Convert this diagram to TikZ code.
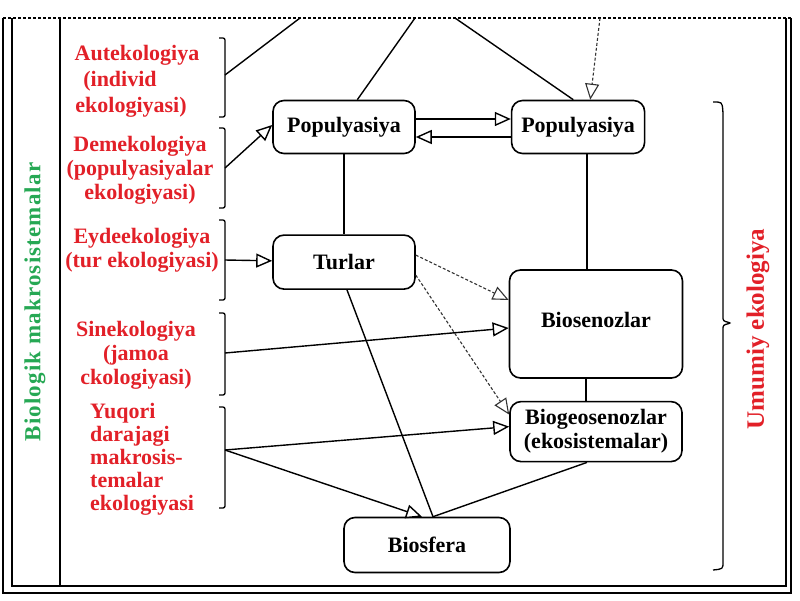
\documentclass[tikz,border=0pt]{standalone}
\usepackage{fontspec}
\setmainfont{Liberation Serif}
\usetikzlibrary{positioning}
\usetikzlibrary{calc}
\usetikzlibrary{arrows.meta}
\definecolor{ecored}{RGB}{226,32,40}
\definecolor{ecogreen}{RGB}{38,168,84}

\begin{document}
\begin{tikzpicture}[
        x=1pt, y=-1pt,
        box/.style={draw, line width=1.6pt, rounded corners=11pt, fill=white,
                    align=center, inner sep=0pt,
                    font=\bfseries\fontsize{22}{24}\selectfont},
        lbl/.style={text=ecored, align=center, inner sep=0pt,
                    font=\bfseries\fontsize{22}{24}\selectfont},
        arrow/.style={-{Triangle[fill=white, length=16pt, width=14pt]}, line width=1.4pt},
        darrow/.style={arrow, densely dashed, draw=black!80, line width=1.1pt},
        link/.style={line width=1.4pt},
        brk/.style={line width=1.3pt, rounded corners=2pt},
        frame/.style={line width=1.4pt}
    ]
        \useasboundingbox (0,0) rectangle (800,600);

        % frame and left column
        \draw[frame] (3,18) -- (3,593) -- (791,593) -- (791,18);
        \draw[frame] (12,18) -- (12,586) -- (786,586) -- (786,18);
        \draw[frame] (60,18) -- (60,586);
        \draw[frame, densely dashed, line width=1.5pt] (3,18) -- (791,18);

        \node[rotate=90, text=ecogreen,
              font=\bfseries\fontsize{23}{23}\selectfont\addfontfeatures{LetterSpace=5}]
              (biomak) at (35,302) {Biologik makrosistemalar};

        % red labels with brackets
        \node[lbl] (aut) at (137,81) {Autekologiya\\[2pt](individ\rule{34pt}{0pt}\\[2pt]ekologiyasi)\rule{12pt}{0pt}};
        \node[lbl] (dem) at (140,170) {Demekologiya\\(populyasiyalar\\ekologiyasi)};
        \node[lbl] (eyd) at (142,250) {Eydeekologiya\\(tur ekologiyasi)};
        \node[lbl] (sin) at (136,355) {Sinekologiya\\(jamoa\\ckologiyasi)};
        \node[lbl, align=left, anchor=west, font=\bfseries\fontsize{22}{23}\selectfont]
              (yuq) at (90,459) {Yuqori\\darajagi\\makrosis-\\temalar\\ekologiyasi};

        \foreach \t/\b/\m/\n in {38/117/75/a, 128/208/168/b, 220/300/260/c, 313/395/353/d, 407/508/450/e}{
            \draw[brk] (219,\t) -- (225,\t) -- (225,\b) -- (219,\b);
            \coordinate (br\n) at (225,\m);
        }

        % levels
        \node[box, minimum width=142pt, minimum height=53pt] (pop1) at (344,127) {Populyasiya};
        \node[box, minimum width=133pt, minimum height=53pt, right=95pt of pop1] (pop2) {Populyasiya};
        \node[box, minimum width=142pt, minimum height=54pt, below=80pt of pop1] (turlar) {Turlar};
        \node[box, minimum width=173pt, minimum height=108pt, text depth=8pt] (bios) at (596,324) {Biosenozlar};
        \node[box, minimum width=172pt, minimum height=60pt, below=22pt of bios] (biogeo) {Biogeosenozlar\\(ekosistemalar)};
        \node[box, minimum width=166pt, minimum height=55pt] (biosfera) at (427,545) {Biosfera};

        % right brace
        \draw[brk] (713,102) .. controls (722,102) .. (723,112) -- (723,314)
            .. controls (723,321) .. (731,323) .. controls (723,325) .. (723,332)
            -- (723,560) .. controls (723,569) .. (713,570);
        \node[rotate=90, text=ecored, font=\bfseries\fontsize{25}{25}\selectfont]
              (umum) at (758,329) {Umumiy ekologiya};

        % loose ends at the top
        \coordinate (topa) at (300,18);
        \coordinate (topb) at (415,18);
        \coordinate (topc) at (455,18);
        \coordinate (topd) at (600,18);

        \draw[link] (bra) -- (topa);
        \draw[link] (pop1.64) -- (topb);
        \draw[link] (pop2.100) -- (topc);
        \draw[darrow] (topd) -- (pop2.66);

        \draw[arrow] ([yshift=8pt]pop1.east) -- ([yshift=8pt]pop2.west);
        \draw[arrow] ([yshift=-10pt]pop2.west) -- ([yshift=-10pt]pop1.east);
        \draw[arrow] (brb) -- ([yshift=2pt]pop1.west);
        \draw[link] (pop1) -- (turlar);
        \draw[arrow] (brc) -- (turlar);
        \draw[link] ([xshift=9pt]pop2.south) -- ([xshift=9pt]pop2.south |- bios.north);
        \draw[link] ([xshift=-10pt]bios.south) -- ([xshift=-10pt]bios.south |- biogeo.north);
        \draw[darrow] ([yshift=7pt]turlar.east) -- ([yshift=24pt]bios.west);
        \draw[darrow] ([yshift=-13pt]turlar.east) -- ([yshift=17pt]biogeo.west);
        \draw[arrow] (brd) -- ([yshift=-4pt]bios.west);
        \draw[arrow] (bre) -- ([yshift=5pt]biogeo.west);
        \draw[arrow] (bre) -- ([xshift=-5pt]biosfera.north);
        \draw[link] ([xshift=3pt]turlar.south) -- ([xshift=6pt]biosfera.north);
        \draw[link] ([xshift=-9pt]biogeo.south) -- ([xshift=6pt]biosfera.north);
    \end{tikzpicture}
\end{document}
